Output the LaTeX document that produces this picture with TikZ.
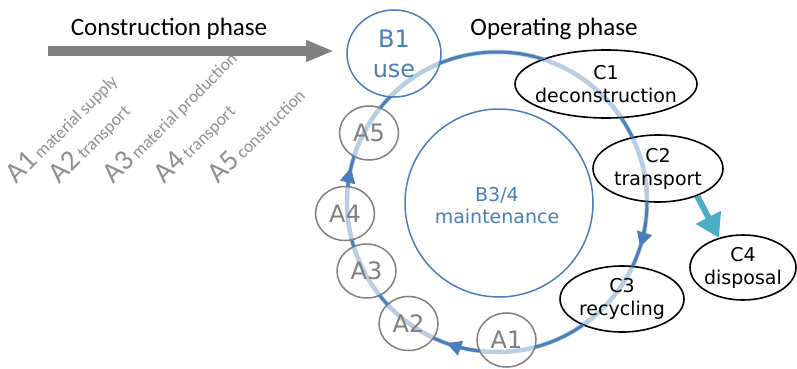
\documentclass[tikz,border=0pt]{standalone}
\usepackage{fontspec}
\setmainfont{DejaVu Sans}
\newfontfamily\calib{Carlito}
\usetikzlibrary{shapes.geometric,arrows.meta}
\definecolor{ringdark}{HTML}{4A7EBB}
\definecolor{ringlight}{HTML}{B9CDE5}
\definecolor{agray}{HTML}{7F7F7F}
\definecolor{lgray}{HTML}{8F8F8F}
\definecolor{tealc}{HTML}{4BACC6}
\definecolor{bigarrow}{HTML}{808080}
\newcommand\alab[2]{{\fontsize{29}{33}\selectfont #1}{\fontsize{17.5}{21}\selectfont\ #2}}
\begin{document}
\begin{tikzpicture}[x=1pt,y=1pt,
  anode/.style={ellipse, draw=agray, line width=1.5pt, minimum width=59pt, minimum height=54pt, inner sep=0pt, text=agray, font=\fontsize{24}{29}\selectfont},
  bnode/.style={ellipse, draw=ringdark, line width=1.5pt, inner sep=0pt, text=ringdark, align=center, font=\fontsize{24}{30}\selectfont},
  cnode/.style={ellipse, draw=black, line width=1.6pt, inner sep=0pt},
  ctext/.style={align=center, inner sep=0pt, font=\fontsize{19}{23}\selectfont},
  btext/.style={align=center, inner sep=0pt, text=ringdark, font=\fontsize{19}{22}\selectfont},
  phase/.style={font=\calib\fontsize{25}{30}\selectfont, anchor=base, inner sep=0pt},
  lab/.style={text=lgray, font=\calib, anchor=base west, rotate=45, inner sep=0pt},
  darkring/.style={ringdark, line width=3pt},
  ringtip/.style={-{Triangle[length=15pt,width=15pt]}}
]
\useasboundingbox (0,0) rectangle (797,368);
\coordinate (O) at (497,166);
% light ring
\draw[ringlight, line width=4.5pt] (O) circle[radius=150];
% nodes
\node[bnode, minimum width=94pt, minimum height=87pt] (B1) at (394,314.5) {B1\\use};
\node[circle, draw=ringdark, line width=1.5pt, minimum size=188pt, inner sep=0pt] (B34) at (499,165) {};
\node[btext] (B34t) at (497,162) {B3/4\\maintenance};
\node[anode] (A5) at (369,235) {A5};
\node[anode] (A4) at (345,154.5) {A4};
\node[anode] (A3) at (366.5,97) {A3};
\node[anode] (A2) at (408.5,44.5) {A2};
\node[anode] (A1) at (506.5,28) {A1};
\node[cnode, minimum width=182pt, minimum height=68pt] (C1) at (606,284) {};
\node[cnode, minimum width=130pt, minimum height=67pt] (C2) at (658,199.5) {};
\node[cnode, minimum width=124pt, minimum height=66pt] (C3) at (622,69) {};
\node[cnode, minimum width=106pt, minimum height=65pt] (C4) at (743,100.5) {};
\node[ctext] (C1t) at (C1) {C1\\deconstruction};
\node[ctext] (C2t) at (C2) {C2\\transport};
\node[ctext] (C3t) at (C3) {C3\\recycling};
\node[ctext] (C4t) at (C4) {C4\\disposal};
% dark ring, hidden inside the nodes
\begin{scope}
\clip (0,0) -- (0,368) -- (797,368) -- (797,0) -- cycle
  (B1.center) ellipse[x radius=47, y radius=43.5]
  (A5.center) ellipse[x radius=29.5, y radius=27]
  (A4.center) ellipse[x radius=29.5, y radius=27]
  (A3.center) ellipse[x radius=29.5, y radius=27]
  (A2.center) ellipse[x radius=29.5, y radius=27]
  (A1.center) ellipse[x radius=29.5, y radius=27]
  (C1.center) ellipse[x radius=91, y radius=34]
  (C2.center) ellipse[x radius=65, y radius=33.5]
  (C3.center) ellipse[x radius=62, y radius=33];
\draw[darkring] (O) circle[radius=150];
\draw[darkring, ringtip] ([shift={(176:150)}]O) arc[start angle=176, end angle=166.8, radius=150];
\draw[darkring, ringtip] ([shift={(-8:150)}]O) arc[start angle=-8, end angle=-17.5, radius=150];
\draw[darkring, ringtip] ([shift={(-99:150)}]O) arc[start angle=-99, end angle=-109.7, radius=150];
\end{scope}
% C2 -> C4
\draw[tealc, line width=6pt, -{Triangle[length=23pt,width=27pt]}] (C2.-35) -- (C4.129);
% construction phase arrow
\coordinate (cs) at (48,317);
\coordinate (ce) at (334,317);
\draw[bigarrow, line width=10pt, -{Triangle[length=28pt,width=20pt]}] (cs) -- (ce);
\node[phase] (cph) at (169,333) {Construction phase};
\node[phase] (oph) at (554,333) {Operating phase};
% rotated labels
\node[lab] (L1) at (16,183) {\alab{A1}{material supply}};
\node[lab] (L2) at (59,183) {\alab{A2}{transport}};
\node[lab] (L3) at (113,183) {\alab{A3}{material production}};
\node[lab] (L4) at (164,183) {\alab{A4}{transport}};
\node[lab] (L5) at (218,183) {\alab{A5}{construction}};
\end{tikzpicture}
\end{document}
